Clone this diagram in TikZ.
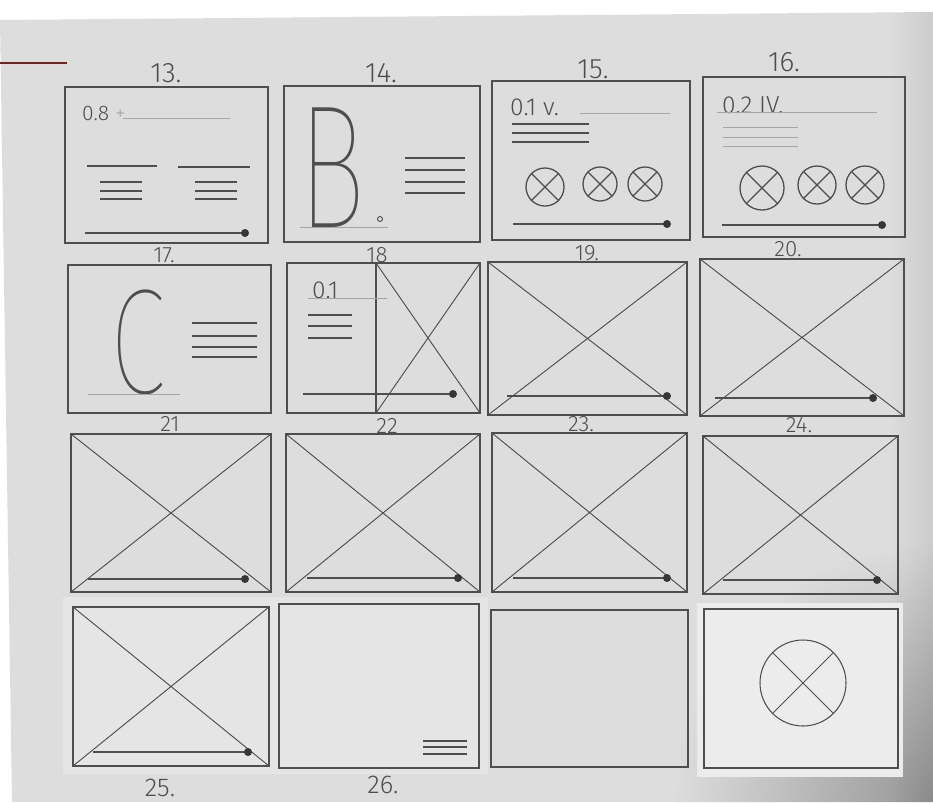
\documentclass[tikz,border=0pt]{standalone}
\usepackage{fontspec}
\usetikzlibrary{fadings}
\newfontfamily\pencilfont{Fira Sans Light}
\newfontfamily\thinfont{Fira Sans Thin}
\definecolor{paper}{RGB}{221,221,221}
\definecolor{paperlight}{RGB}{229,229,229}
\definecolor{patch}{RGB}{236,236,236}
\definecolor{shadow}{RGB}{150,150,150}
\definecolor{lead}{RGB}{78,78,78}
\definecolor{faintlead}{RGB}{165,165,165}
\definecolor{rule}{RGB}{112,38,30}
\tikzfading[name=edge fade,left color=transparent!100,right color=transparent!0]

\begin{document}
\begin{tikzpicture}[x=0.03cm,y=-0.03cm,
    frame/.style={draw=lead,line width=1.3pt},
    cross/.style={draw=lead,line width=0.8pt},
    txt/.style={draw=lead,line width=1.1pt},
    faint/.style={draw=faintlead,line width=0.6pt},
    knob/.style={fill=lead!70!black},
    placeholder/.style={circle,draw=lead,line width=1.1pt,inner sep=0pt},
    num/.style={text=lead,inner sep=0pt,font=\pencilfont\fontsize{24}{24}\selectfont},
    small num/.style={num,font=\pencilfont\fontsize{19}{19}\selectfont},
    note/.style={text=lead,inner sep=0pt,anchor=base west,font=\pencilfont\fontsize{21}{21}\selectfont},
    drop/.style={text=lead,inner sep=0pt,font=\thinfont\fontsize{150}{150}\selectfont}]

            \useasboundingbox (0,0) rectangle (933,802);
            \fill[white] (0,0) rectangle (933,802);
            \begin{scope}
                \clip (0,20) -- (933,12) -- (933,802) -- (12,802) -- cycle;
                \fill[paper] (0,0) rectangle (933,802);
                \shade[inner color=shadow,outer color=paper] (933,802) circle (260);
                \fill[black,opacity=0.08,path fading=edge fade] (890,0) rectangle (933,802);
            \end{scope}
            \fill[paperlight] (63,597) rectangle (488,774);
            \fill[patch] (697,603) rectangle (903,777);

            \draw[rule,line width=1.6pt] (0,63) -- (67,63);

            \foreach \f/\xa/\ya/\xb/\yb in {13/65/87/268/243,14/284/86/480/242,15/492/81/690/240,16/703/77/905/237,
                17/68/265/271/413,18/287/263/480/413,19/488/262/687/415,20/700/259/904/416,
                21/71/434/271/592,22/286/434/480/592,23/492/433/687/592,24/703/436/898/594,
                25/73/607/269/766,26/279/604/479/768,27/491/610/688/767,28/704/609/898/768} {
                \coordinate (f\f a) at (\xa,\ya);
                \coordinate (f\f b) at (\xb,\yb);
                \draw[frame] (f\f a) rectangle (f\f b);
            }

            \foreach \f in {19,...,25}
                \draw[cross] (f\f a) -- (f\f b) (f\f a -| f\f b) -- (f\f a |- f\f b);

            \draw[frame] (376,263) coordinate (s18a) -- (376,413) coordinate (s18b);
            \draw[cross] (s18a) -- (f18b) (s18b) -- (f18a -| f18b);

            \foreach \xa/\xb/\y in {85/245/233,513/667/224,722/882/225,303/453/394,507/667/396,715/873/398,
                88/245/579,307/458/578,513/667/578,723/877/580,93/248/752} {
                \draw[txt] (\xa,\y) -- (\xb,\y);
                \fill[knob] (\xb,\y) circle (4);
            }

            \node[num] (n13) at (166,73) {13.};
            \node[num] (n14) at (381,73) {14.};
            \node[num] (n15) at (593,69) {15.};
            \node[num] (n16) at (784,62) {16.};
            \node[small num] (n17) at (164,255) {17.};
            \node[small num] (n18) at (377,255) {18};
            \node[small num] (n19) at (587,253) {19.};
            \node[small num] (n20) at (788,249) {20.};
            \node[small num] (n21) at (170,424) {21};
            \node[small num] (n22) at (387,426) {22};
            \node[small num] (n23) at (581,424) {23.};
            \node[small num] (n24) at (799,425) {24.};
            \node[num,font=\pencilfont\fontsize{22}{22}\selectfont] (n25) at (160,788) {25.};
            \node[num,font=\pencilfont\fontsize{22}{22}\selectfont] (n26) at (383,785) {26.};

            \node[note,font=\pencilfont\fontsize{18}{18}\selectfont] (t13) at (82,120) {0.8 \textcolor{faintlead}{+}};
            \draw[faint] (123,118) -- (230,118);
            \draw[txt] (87,166) -- (157,166) (178,167) -- (250,167);
            \foreach \y in {182,191,199}
                \draw[txt] (100,\y) -- (142,\y) (195,\y) -- (237,\y);

            \node[drop] (bigB) at (332,168) {\scalebox{0.65}[1]{B}};
            \draw[lead,line width=0.8pt] (380,219) circle (2.5);
            \draw[faint] (300,227) -- (388,227);
            \foreach \y in {158,170,182,193}
                \draw[txt] (405,\y) -- (465,\y);

            \node[note] (t15) at (510,115) {0.1 v.};
            \draw[faint] (580,113) -- (670,113);
            \foreach \y in {124,133,142}
                \draw[txt] (512,\y) -- (589,\y);

            \node[note] (t16) at (722,113) {0.2 IV.};
            \draw[faint] (717,112) -- (877,112);
            \foreach \y in {127,137,146}
                \draw[faint] (723,\y) -- (798,\y);

            \foreach \p/\cx/\cy/\r in {a/545/187/19,b/600/184/17,c/645/184/17,d/762/188/22,e/817/185/19,f/865/185/19} {
                \node[placeholder,minimum size=\r*0.06cm] (c\p) at (\cx,\cy) {};
                \draw[txt] (c\p.north west) -- (c\p.south east) (c\p.north east) -- (c\p.south west);
            }

            \node[drop,font=\thinfont\fontsize{128}{128}\selectfont] (bigC) at (138,342) {\scalebox{0.68}[1]{C}};
            \draw[faint] (88,394) -- (180,394);
            \foreach \y in {323,336,347,357}
                \draw[txt] (192,\y) -- (257,\y);

            \node[note] (t18) at (312,298) {0.1};
            \draw[faint] (308,298) -- (387,298);
            \foreach \y in {315,326,338}
                \draw[txt] (308,\y) -- (352,\y);

            \foreach \y in {741,747,754}
                \draw[txt] (423,\y) -- (467,\y);

            \node[placeholder,minimum size=2.58cm,line width=0.9pt] (ph) at (803,683) {};
            \draw[cross] (ph.north west) -- (ph.south east) (ph.north east) -- (ph.south west);
        \end{tikzpicture}
\end{document}
